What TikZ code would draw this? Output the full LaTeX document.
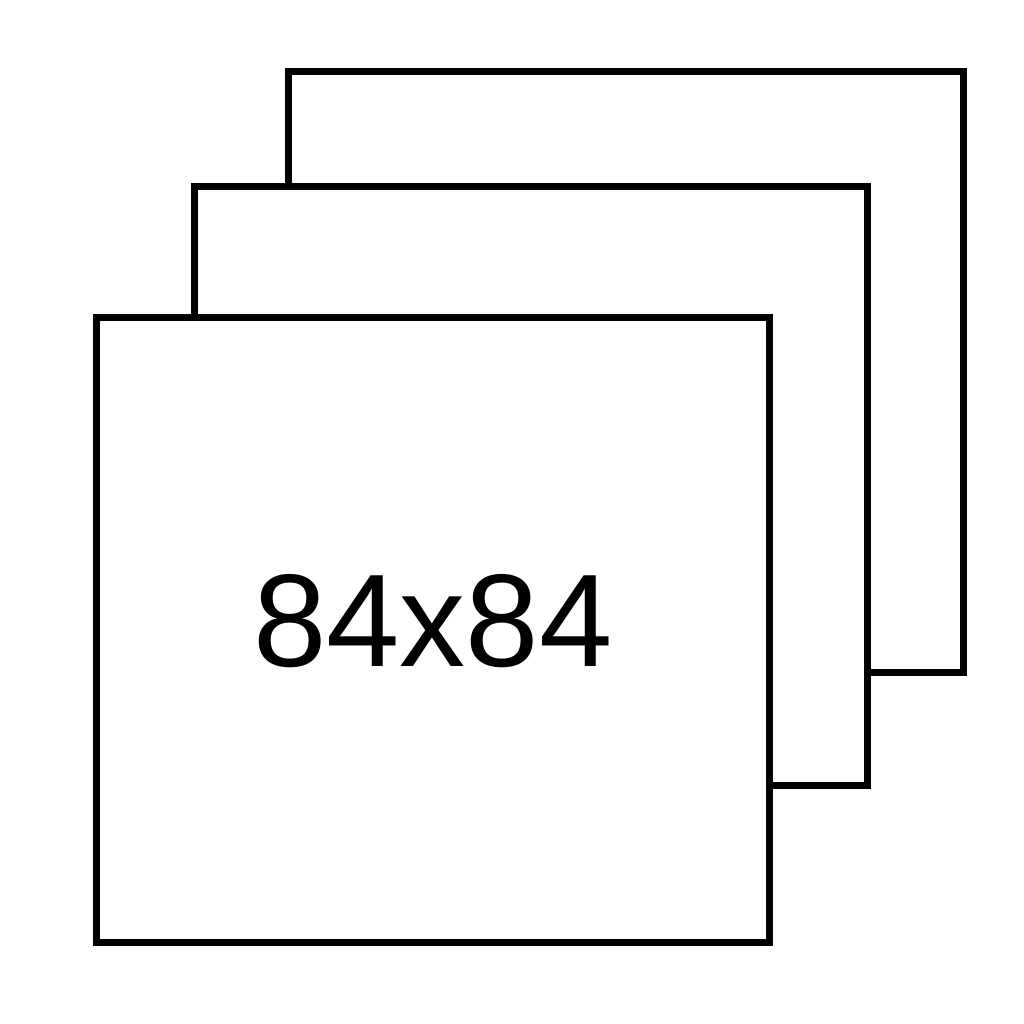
\documentclass[tikz,border=0pt]{standalone}
\usepackage{fontspec}
\setmainfont{Liberation Sans}
\usetikzlibrary{positioning}

\begin{document}
\begin{tikzpicture}[
  x=0.01cm, y=-0.01cm,
  sheet/.style={draw=black, fill=white, line width=2pt, inner sep=0pt},
  every node/.style={font=\fontsize{37.5}{40}\selectfont},
]
\useasboundingbox (0,0) rectangle (1024,1024);

%% Stack of sheets, back to front
\node[sheet, minimum width=6.74cm, minimum height=6.00cm] (back)   at (626,372) {};
\node[sheet, minimum width=6.72cm, minimum height=5.98cm] (middle) at (531,486) {};
\node[sheet, minimum width=6.73cm, minimum height=6.24cm] (front)  at (433,630) {};

%% Size label
\node (size) at (433,621) {84x84};

\end{tikzpicture}
\end{document}
